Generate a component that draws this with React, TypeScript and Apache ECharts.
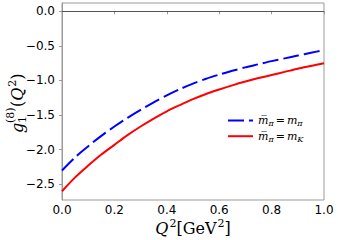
import React, { useEffect, useRef } from "react";
import * as echarts from "echarts";

const q2 = [0, 0.05, 0.1, 0.15, 0.2, 0.25, 0.3, 0.35, 0.4, 0.45, 0.5, 0.55, 0.6, 0.65, 0.7, 0.75, 0.8, 0.85, 0.9, 0.95, 1.0];
const gPi = [-2.3, -2.11, -1.95, -1.8, -1.665, -1.54, -1.425, -1.315, -1.215, -1.125, -1.045, -0.975, -0.915, -0.86, -0.81, -0.765, -0.72, -0.68, -0.64, -0.6, -0.56];
const gK = [-2.6, -2.4, -2.23, -2.07, -1.93, -1.79, -1.665, -1.55, -1.445, -1.355, -1.27, -1.195, -1.13, -1.07, -1.015, -0.965, -0.92, -0.875, -0.83, -0.79, -0.75];
const xTicks = [0, 0.2, 0.4, 0.6, 0.8, 1.0];
const yTicks = [-2.5, -2.0, -1.5, -1.0, -0.5, 0.0];
const seriesNames = ["pi", "K"];

const FRAME = "#9a9a9a";
const SERIF = "DejaVu Serif";

const fmt = (v: number) => {
  const s = Math.abs(v).toFixed(1);
  return v < -1e-9 ? "\u2212" + s : s;
};

export default function App() {
  const ref = useRef<HTMLDivElement>(null);
  useEffect(() => {
    if (!ref.current) return;
    const chart = echarts.init(ref.current, null, { renderer: "svg" });
    const mathRich = {
      i: { fontFamily: SERIF, fontStyle: "italic", fontSize: 16, fill: "#000", color: "#000" },
      r: { fontFamily: SERIF, fontSize: 16, fill: "#000", color: "#000" },
      sup: { fontFamily: SERIF, fontSize: 11, padding: [0, 0, 10, 1], fill: "#000", color: "#000" },
    };
    chart.setOption({
      animation: false,
      grid: {
        left: 62,
        right: 14,
        top: 3,
        bottom: 40,
        show: true,
        borderColor: FRAME,
        borderWidth: 1,
        backgroundColor: "transparent",
      },
      xAxis: {
        type: "value",
        min: 0,
        max: 1,
        interval: 0.2,
        axisLine: { show: true, lineStyle: { color: FRAME, width: 1 } },
        axisTick: { show: true, length: 3, lineStyle: { color: FRAME }, customValues: xTicks },
        axisLabel: {
          customValues: xTicks,
          formatter: (v: number) => fmt(v),
          fontFamily: "DejaVu Sans",
          fontSize: 12,
          color: "#000",
          margin: 4,
        },
        splitLine: { show: false },
      },
      yAxis: {
        type: "value",
        min: -2.727,
        max: 0.12,
        axisLine: { show: true, lineStyle: { color: FRAME, width: 1 } },
        axisTick: { show: true, length: 3, lineStyle: { color: FRAME }, customValues: yTicks },
        axisLabel: {
          customValues: yTicks,
          formatter: (v: number) => fmt(v),
          fontFamily: "DejaVu Sans",
          fontSize: 12,
          color: "#000",
          margin: 7,
        },
        splitLine: { show: false },
      },
      legend: {
        orient: "vertical",
        left: 222,
        top: 110,
        itemWidth: 25,
        itemHeight: 14,
        itemGap: 3,
        data: seriesNames,
        itemStyle: { opacity: 0 },
        formatter: (name: string) =>
          name === "pi"
            ? "{m|m\u0305}{s|\u03c0}{e|=}{m|m}{s|\u03c0}"
            : "{m|m\u0305}{s|\u03c0}{e|=}{m|m}{s|K}",
        textStyle: {
          rich: {
            m: { fontFamily: SERIF, fontStyle: "italic", fontSize: 11, color: "#000" },
            s: { fontFamily: SERIF, fontStyle: "italic", fontSize: 8, color: "#000", padding: [6, 0, 0, 0] },
            e: { fontFamily: SERIF, fontSize: 11, color: "#000", padding: [0, 2, 0, 2] },
          },
        },
      },
      graphic: [
        {
          type: "group",
          x: 17,
          y: 133,
          rotation: Math.PI / 2,
          children: [
            {
              type: "text",
              x: 0,
              y: 0,
              style: { text: "g", fontFamily: SERIF, fontStyle: "italic", fontSize: 16, fill: "#000", verticalAlign: "middle", align: "left" },
            },
            {
              type: "text",
              x: 10,
              y: 5,
              style: { text: "1", fontFamily: SERIF, fontSize: 11, fill: "#000", verticalAlign: "middle", align: "left" },
            },
            {
              type: "text",
              x: 10,
              y: -7,
              style: { text: "(8)", fontFamily: SERIF, fontSize: 11, fill: "#000", verticalAlign: "middle", align: "left" },
            },
            {
              type: "text",
              x: 26,
              y: 0,
              style: {
                text: "{r|(}{i|Q}{sup|2}{r|)}",
                rich: mathRich,
                verticalAlign: "middle",
                align: "left",
              },
            },
          ],
        },
        {
          type: "text",
          x: 193,
          y: 228,
          style: {
            text: "{i|Q}{sup|2}{r|[GeV}{sup|2}{r|]}",
            rich: mathRich,
            align: "center",
            verticalAlign: "middle",
          },
        },
      ],
      series: [
        {
          name: "pi",
          type: "line",
          data: q2.map((q, i) => [q, gPi[i]]),
          smooth: 0.3,
          symbol: "none",
          showSymbol: false,
          lineStyle: { color: "#0000ff", width: 2, type: [16, 5] },
          itemStyle: { color: "#0000ff" },
          z: 3,
          markLine: {
            silent: true,
            symbol: ["none", "none"],
            label: { show: false },
            lineStyle: { color: "#555", width: 1, type: "solid" },
            data: [{ yAxis: 0 }],
          },
        },
        {
          name: "K",
          type: "line",
          data: q2.map((q, i) => [q, gK[i]]),
          smooth: 0.3,
          symbol: "none",
          showSymbol: false,
          lineStyle: { color: "#ff0000", width: 2, type: "solid" },
          itemStyle: { color: "#ff0000" },
          z: 3,
        },
      ],
    });
    return () => chart.dispose();
  }, []);
  return (
    <div
      ref={ref}
      style={{ position: "fixed", left: 0, top: 0, width: 338, height: 240, background: "#fff" }}
    />
  );
}
